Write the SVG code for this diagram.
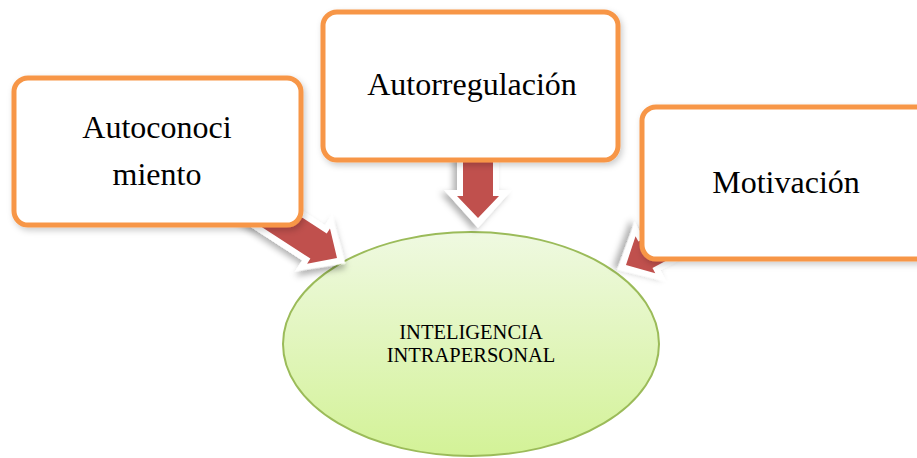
<svg xmlns="http://www.w3.org/2000/svg" width="917" height="458" viewBox="0 0 917 458">
  <style>
    .box { fill: #ffffff; stroke: #F79646; stroke-width: 5; }
    .btxt { font-family: "Liberation Serif", "Times New Roman", serif; font-size: 32px; fill: #000; text-anchor: middle; }
    .etxt { font-family: "Liberation Serif", "Times New Roman", serif; font-size: 20.5px; fill: #000; text-anchor: middle; }
    .aout { fill: #ffffff; }
    .ain { fill: #C0504D; }
  </style>
  <defs>
    <linearGradient id="gEll" x1="0" y1="0" x2="0" y2="1">
      <stop offset="0" stop-color="#EFF9E1"/>
      <stop offset="1" stop-color="#D3F297"/>
    </linearGradient>
    <filter id="sh" x="-20%" y="-20%" width="140%" height="140%">
      <feDropShadow dx="3" dy="4" stdDeviation="3" flood-color="#000" flood-opacity="0.3"/>
    </filter>
    <filter id="bsh" x="-10%" y="-10%" width="120%" height="125%">
      <feDropShadow dx="2" dy="3" stdDeviation="3" flood-color="#000" flood-opacity="0.2"/>
    </filter>
    <g id="arrow">
      <polygon class="aout" filter="url(#sh)" points="10,0 -28,-34 -28,-21 -130,-21 -130,21 -28,21 -28,34"/>
      <polygon class="ain" points="0,0 -22,-21 -22,-15 -130,-15 -130,15 -22,15 -22,21"/>
    </g>
  </defs>

  <g id="n-center">
    <ellipse cx="471" cy="344" rx="188" ry="112" fill="url(#gEll)" stroke="#9BBB59" stroke-width="2"/>
    <text class="etxt" x="471" y="339">INTELIGENCIA</text>
    <text class="etxt" x="471" y="362">INTRAPERSONAL</text>
  </g>

  <g id="connectors">
    <use href="#arrow" transform="translate(337,258) rotate(33)"/>
    <use href="#arrow" transform="translate(478,218) rotate(90)"/>
    <use href="#arrow" transform="translate(626,265) rotate(152)"/>
  </g>

  <g id="n-autoconocimiento">
    <rect class="box" filter="url(#bsh)" x="14" y="78" width="287" height="147" rx="14"/>
    <text class="btxt" x="157" y="138">Autoconoci</text>
    <text class="btxt" x="157" y="185">miento</text>
  </g>

  <g id="n-autorregulacion">
    <rect class="box" filter="url(#bsh)" x="323" y="12" width="295" height="148" rx="14"/>
    <text class="btxt" x="472" y="95">Autorregulación</text>
  </g>

  <g id="n-motivacion">
    <rect class="box" filter="url(#bsh)" x="642" y="107" width="292" height="152" rx="14"/>
    <text class="btxt" x="786" y="193">Motivación</text>
  </g>
</svg>
